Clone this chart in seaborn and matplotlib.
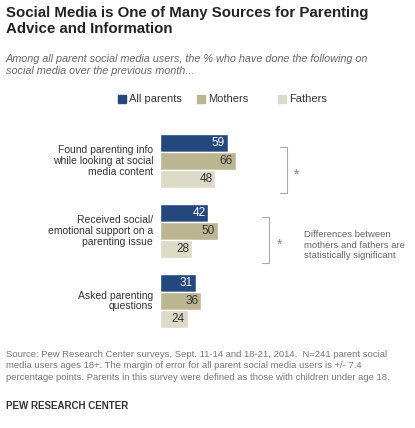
import matplotlib
matplotlib.use("Agg")
import matplotlib.pyplot as plt
import seaborn as sns
import pandas as pd
from matplotlib.patches import Rectangle

categories = ["Found parenting info\nwhile looking at social\nmedia content",
              "Received social/\nemotional support on a\nparenting issue",
              "Asked parenting\nquestions"]
groups = ["All parents", "Mothers", "Fathers"]
all_parents = [59, 42, 31]
mothers = [66, 50, 36]
fathers = [48, 28, 24]
colors = ["#24487e", "#bcb592", "#dddac7"]

rows = []
for g, vals in zip(groups, [all_parents, mothers, fathers]):
    for c, v in zip(categories, vals):
        rows.append({"cat": c, "group": g, "val": v})
df = pd.DataFrame(rows)

sns.set_style("white")
plt.rcParams["font.family"] = ["Arial", "Liberation Sans", "DejaVu Sans"]

W, H = 415, 428
fig = plt.figure(figsize=(W / 100, H / 100), dpi=100)
ax = fig.add_axes([160 / W, 1 - 336 / H, 115 / W, 210 / H])
sns.barplot(data=df, y="cat", x="val", hue="group", palette=colors,
            width=0.78, ax=ax, legend=False, saturation=1)
ax.set_xlim(0, 100)
ax.set_ylim(2.5, -0.5)
ax.set_xlabel("")
ax.set_ylabel("")
ax.set_xticks([])
ax.set_yticks([])
sns.despine(ax=ax, left=True, bottom=True)

for ci, cont in enumerate(ax.containers):
    for bar in cont:
        v = bar.get_width()
        y = bar.get_y() + bar.get_height() / 2
        ax.text(v - 2.5, y, f"{v:.0f}", ha="right", va="center", fontsize=8.5,
                color="white" if ci == 0 else "#333333")

for i, c in enumerate(categories):
    ax.text(-6, i, c, ha="right", va="center", fontsize=7.5, color="#333333",
            linespacing=1.1)

# brackets for significant differences
def bracket(yc, x0):
    kw = dict(color="#aaaaaa", lw=0.8, clip_on=False)
    ax.plot([x0, x0 + 6, x0 + 6, x0], [yc - 0.2, yc - 0.2, yc + 0.45, yc + 0.45], **kw)
    ax.text(x0 + 15, yc + 0.2, "*", ha="center", va="center", fontsize=10, color="#888888")

bracket(0, 104)
bracket(1, 89)
fig.text(304 / W, 1 - 245 / H, "Differences between\nmothers and fathers are\nstatistically significant",
         fontsize=6.8, color="#666666", va="center", linespacing=1.15)

# legend
for x, g, col in zip([118, 197, 278], groups, colors):
    fig.patches.append(Rectangle((x / W, 1 - 103 / H), 8 / W, 8 / H, color=col,
                                 transform=fig.transFigure, figure=fig))
    fig.text((x + 11) / W, 1 - 99 / H, g, fontsize=8, va="center", color="#333333")

fig.text(6 / W, 1 - 6 / H, "Social Media is One of Many Sources for Parenting\nAdvice and Information",
         fontsize=10.8, fontweight="bold", va="top", color="#222222", linespacing=1.2)
fig.text(6 / W, 1 - 54 / H, "Among all parent social media users, the % who have done the following on\nsocial media over the previous month...",
         fontsize=7.8, style="italic", va="top", color="#666666", linespacing=1.3)
fig.text(6 / W, 1 - 350 / H,
         "Source: Pew Research Center surveys, Sept. 11-14 and 18-21, 2014.  N=241 parent social\n"
         "media users ages 18+. The margin of error for all parent social media users is +/- 7.4\n"
         "percentage points. Parents in this survey were defined as those with children under age 18.",
         fontsize=6.8, va="top", color="#777777", linespacing=1.35)
fig.text(6 / W, 1 - 401 / H, "PEW RESEARCH CENTER", fontsize=7, fontweight="bold",
         va="top", color="#333333")

fig.savefig("out.png", dpi=100)
